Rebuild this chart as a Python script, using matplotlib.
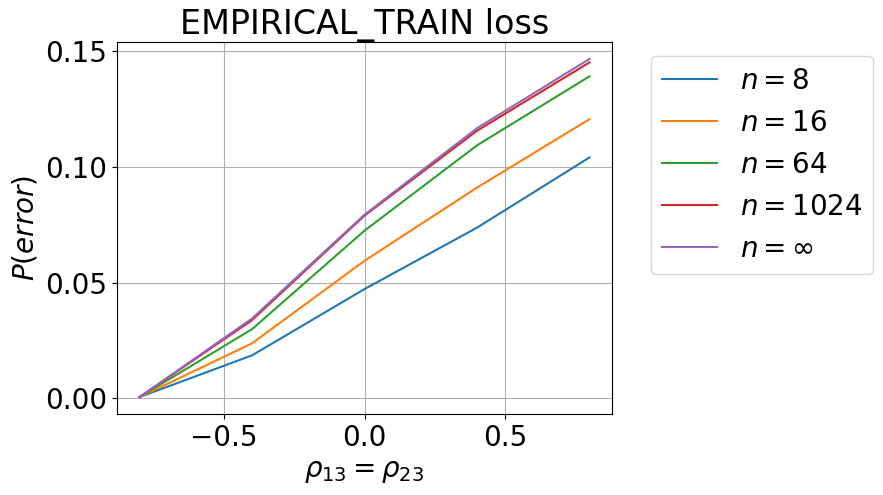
import numpy as np
import matplotlib.pyplot as plt

rho = [-0.8, -0.4, 0.0, 0.4, 0.8]
labels = [r'$n=8$', r'$n=16$', r'$n=64$', r'$n=1024$', r'$n=\infty$']
p_n8 = [0.0006, 0.0186, 0.0472, 0.0737, 0.1040]
p_n16 = [0.0006, 0.0238, 0.0594, 0.0910, 0.1205]
p_n64 = [0.0006, 0.0299, 0.0724, 0.1092, 0.1390]
p_n1024 = [0.0006, 0.0338, 0.0789, 0.1155, 0.1450]
p_ninf = [0.0006, 0.0345, 0.0793, 0.1166, 0.1465]

plt.rcParams['font.size'] = 20
fig = plt.figure(figsize=(8.83, 4.95), dpi=100)
ax = fig.add_axes([117 / 883, 81 / 495, 495 / 883, 372 / 495])

for vals, lab in zip([p_n8, p_n16, p_n64, p_n1024, p_ninf], labels):
    ax.plot(rho, vals, label=lab)

ax.set_title('EMPIRICAL_TRAIN loss')
ax.set_xlabel(r'$\rho_{13} = \rho_{23}$')
ax.set_ylabel(r'$P(error)$')
ax.set_yticks([0.0, 0.05, 0.10, 0.15])
ax.grid(True)
ax.legend(loc='upper left', bbox_to_anchor=(1.05, 1))

fig.savefig('out.png', dpi=100)
